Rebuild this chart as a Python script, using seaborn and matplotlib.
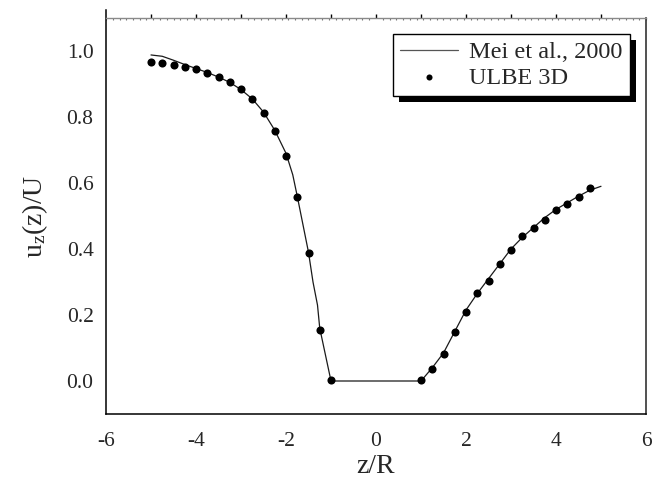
import numpy as np
import pandas as pd
import matplotlib
matplotlib.use("Agg")
import matplotlib.pyplot as plt
from matplotlib.ticker import MultipleLocator
from matplotlib.patches import Rectangle
import seaborn as sns

# Mei et al. (2000) reference profile
mei_z = [-5.0, -4.75, -4.5, -4.25, -4.0, -3.75, -3.5, -3.25, -3.0, -2.75, -2.5,
         -2.25, -2.0, -1.85, -1.75, -1.5, -1.4, -1.3, -1.25, -1.0,
         1.0, 1.25, 1.5, 1.75, 2.0, 2.25, 2.5, 2.75, 3.0, 3.25, 3.5, 3.75,
         4.0, 4.25, 4.5, 4.75, 5.0]
mei_u = [0.988, 0.984, 0.972, 0.959, 0.947, 0.935, 0.921, 0.905, 0.883, 0.855, 0.815,
         0.760, 0.690, 0.625, 0.560, 0.390, 0.300, 0.230, 0.160, 0.0,
         0.0, 0.040, 0.085, 0.150, 0.215, 0.265, 0.310, 0.355, 0.400, 0.435, 0.465, 0.495,
         0.520, 0.540, 0.560, 0.578, 0.590]

# ULBE 3D simulation samples
ulbe_z = [-5.0, -4.75, -4.5, -4.25, -4.0, -3.75, -3.5, -3.25, -3.0, -2.75, -2.5,
          -2.25, -2.0, -1.75, -1.5, -1.25, -1.0,
          1.0, 1.25, 1.5, 1.75, 2.0, 2.25, 2.5, 2.75, 3.0, 3.25, 3.5, 3.75,
          4.0, 4.25, 4.5, 4.75]
ulbe_u = [0.968, 0.963, 0.958, 0.953, 0.944, 0.934, 0.920, 0.906, 0.884, 0.854, 0.813,
          0.757, 0.683, 0.557, 0.388, 0.155, 0.003,
          0.003, 0.035, 0.081, 0.150, 0.209, 0.267, 0.302, 0.356, 0.398, 0.439, 0.465, 0.489,
          0.517, 0.537, 0.557, 0.585]

x_ticks = [-6, -4, -2, 0, 2, 4, 6]
y_ticks = [0.0, 0.2, 0.4, 0.6, 0.8, 1.0]

sns.set_style("white")
plt.rcParams["font.family"] = ["Liberation Serif", "DejaVu Serif"]
plt.rcParams["mathtext.fontset"] = "custom"
plt.rcParams["mathtext.rm"] = "Liberation Serif"
plt.rcParams["mathtext.it"] = "Liberation Serif:italic"

W, H = 652, 484
fig = plt.figure(figsize=(W / 100, H / 100), dpi=100)
L, R, T, B = 106, 646, 18, 414
ax = fig.add_axes([L / W, (H - B) / H, (R - L) / W, (B - T) / H])

mei = pd.DataFrame({"z": mei_z, "u": mei_u})
ulbe = pd.DataFrame({"z": ulbe_z, "u": ulbe_u})

sns.lineplot(data=mei, x="z", y="u", ax=ax, color="#1a1a1a", lw=0.9,
             sort=False, label="Mei et al., 2000", estimator=None)
sns.scatterplot(data=ulbe, x="z", y="u", ax=ax, color="black", s=34,
                edgecolor="black", linewidth=0, label="ULBE 3D", zorder=3)

ax.set_xlim(-6, 6)
ax.set_ylim(-0.1, 1.1)
ax.set_xticks(x_ticks)
ax.set_xticklabels([f"{t:g}" for t in x_ticks])
ax.set_yticks(y_ticks)
ax.set_yticklabels([f"{t:.1f}" for t in y_ticks])
ax.xaxis.set_minor_locator(MultipleLocator(1))
ax.yaxis.set_minor_locator(MultipleLocator(0.1))

ax.tick_params(axis="x", which="major", direction="out", length=7, width=1,
               color="black", labelsize=15.5, pad=6)
ax.tick_params(axis="x", which="minor", direction="out", length=3.6, width=1,
               color="black")
ax.tick_params(axis="y", which="major", direction="out", length=5, width=1,
               color="black", labelsize=15.5, pad=4)
ax.tick_params(axis="y", which="minor", direction="out", length=2.8, width=1,
               color="black")
ax.tick_params(top=False, right=False, which="both")

ax.set_xlabel("z/R", fontsize=20, labelpad=2)
ax.set_ylabel(r"u$_\mathregular{z}$(z)/U", fontsize=20, labelpad=12)

for side in ["left", "bottom"]:
    ax.spines[side].set_color("black")
    ax.spines[side].set_linewidth(1.1)
ax.spines["top"].set_color("#8a8a8a")
ax.spines["top"].set_linewidth(1.0)
ax.spines["right"].set_color("#333333")
ax.spines["right"].set_linewidth(1.2)
ax.spines["left"].set_bounds(-0.1, 1.125)

# upper frame ticks
top = ax.secondary_xaxis("top")
top.set_xticks([-5, -4, -3, -2, -1, 0, 1, 2, 3, 4, 5])
top.set_xticklabels([])
top.tick_params(direction="out", length=3, width=1, color="black")
top.xaxis.set_minor_locator(MultipleLocator(0.15))
top.tick_params(which="minor", direction="in", length=1.2, width=0.8, color="#777777")
top.spines["top"].set_visible(False)

leg = ax.legend(loc="upper right", bbox_to_anchor=(0.970, 0.96), fontsize=17.5,
                frameon=True, fancybox=False, edgecolor="black",
                facecolor="white", framealpha=1.0,
                handlelength=2.4, handletextpad=0.45, borderpad=0.3,
                labelspacing=0.15, markerscale=0.75, borderaxespad=0.0)
leg.get_frame().set_linewidth(1.0)
leg.get_lines()[0].set_color("#555555")

# solid drop shadow behind the legend box
fig.canvas.draw()
bb = leg.get_frame().get_window_extent()
ax.add_patch(Rectangle((bb.x0 + 6, bb.y0 - 6), bb.width, bb.height,
                       transform=None, facecolor="black", edgecolor="none",
                       zorder=4.5, clip_on=False))

fig.savefig("out.png", dpi=100)
